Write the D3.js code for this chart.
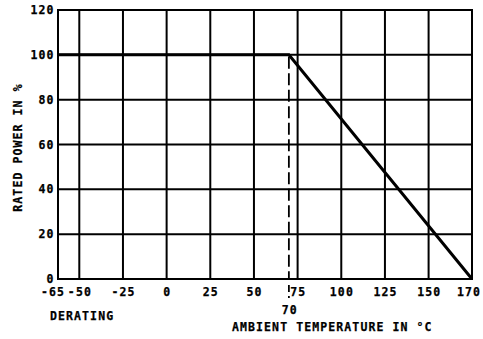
<!DOCTYPE html>
<html>
<head>
<meta charset="utf-8">
<script src="https://cdn.jsdelivr.net/npm/d3@7"></script>
<style>
  html, body { margin: 0; padding: 0; background: #fff; }
  svg text {
    font-family: "DejaVu Sans Mono", "Liberation Mono", monospace;
    font-weight: bold;
    font-size: 11.5px;
    letter-spacing: 1.1px;
    fill: #000;
    stroke: #000;
    stroke-width: 0.25px;
  }
</style>
</head>
<body>
<svg id="chart" width="483" height="339"></svg>
<script>
// Temperature axis ticks (°C) and power axis ticks (%)
const tempTicks = [-65, -50, -25, 0, 25, 50, 75, 100, 125, 150, 170];
const powerTicks = [0, 20, 40, 60, 80, 100, 120];

// Derating curve: full power up to the knee, then linear down to zero
const curveTemps = [-65, 70, 170];
const curvePower = [100, 100, 0];
const kneeTemp = 70;
const kneePower = 100;

const svg = d3.select("#chart");
const W = 483, H = 339;
const margin = { left: 58, right: 11, top: 10, bottom: 60 };

// The scale is stretched at both ends, so it is piecewise linear
const x = d3.scaleLinear()
  .domain([-65, -50, 150, 170])
  .range([margin.left, 79.3, 428.6, W - margin.right]);
const y = d3.scaleLinear()
  .domain([0, 120])
  .range([H - margin.bottom, margin.top]);

const g = svg.append("g");

// Grid (outer lines form the frame)
g.selectAll("line.v").data(tempTicks).join("line")
  .attr("class", "v")
  .attr("x1", d => x(d)).attr("x2", d => x(d))
  .attr("y1", y(0)).attr("y2", y(120))
  .attr("stroke", "#000").attr("stroke-width", 2)
  .attr("stroke-linecap", "square");
g.selectAll("line.h").data(powerTicks).join("line")
  .attr("class", "h")
  .attr("y1", d => y(d)).attr("y2", d => y(d))
  .attr("x1", x(-65)).attr("x2", x(170))
  .attr("stroke", "#000").attr("stroke-width", 2)
  .attr("stroke-linecap", "square");

// Dashed marker at the knee temperature
g.append("line")
  .attr("x1", x(kneeTemp)).attr("x2", x(kneeTemp))
  .attr("y1", y(kneePower) + 2).attr("y2", y(0))
  .attr("stroke", "#000").attr("stroke-width", 1.8)
  .attr("stroke-dasharray", "12,4.5");
g.append("line")
  .attr("x1", x(kneeTemp)).attr("x2", x(kneeTemp))
  .attr("y1", y(0) + 6).attr("y2", y(0) + 13)
  .attr("stroke", "#000").attr("stroke-width", 1.8);
g.append("line")
  .attr("x1", x(kneeTemp)).attr("x2", x(kneeTemp))
  .attr("y1", y(0) + 17).attr("y2", y(0) + 19)
  .attr("stroke", "#000").attr("stroke-width", 1.8);

// Derating curve
const pts = curveTemps.map((t, i) => [t, curvePower[i]]);
g.append("path")
  .datum(pts)
  .attr("d", d3.line().x(d => x(d[0])).y(d => y(d[1])))
  .attr("fill", "none")
  .attr("stroke", "#000")
  .attr("stroke-width", 3)
  .attr("stroke-linejoin", "miter");

// Tick labels (end labels nudged so they stay clear of neighbours and the edge)
const nudge = { "-65": -5, "170": -3 };
g.selectAll("text.xt").data(tempTicks).join("text")
  .attr("class", "xt")
  .attr("x", d => x(d) + (nudge[d] !== undefined ? nudge[d] : 0.6))
  .attr("y", y(0) + 17)
  .attr("text-anchor", "middle")
  .text(d => d);
g.append("text")
  .attr("x", x(kneeTemp) + 1)
  .attr("y", y(0) + 35)
  .attr("text-anchor", "middle")
  .text(kneeTemp);
g.selectAll("text.yt").data(powerTicks).join("text")
  .attr("class", "yt")
  .attr("x", x(-65) - 3.5)
  .attr("y", d => y(d) + 4)
  .attr("text-anchor", "end")
  .text(d => d);

// Titles
g.append("text")
  .attr("transform", "translate(21.5,147.5) rotate(-90)")
  .attr("text-anchor", "middle")
  .text("RATED POWER IN %");
g.append("text")
  .attr("x", 50).attr("y", 320)
  .text("DERATING");
g.append("text")
  .attr("x", 232).attr("y", 331)
  .text("AMBIENT TEMPERATURE IN °C");
</script>
</body>
</html>
